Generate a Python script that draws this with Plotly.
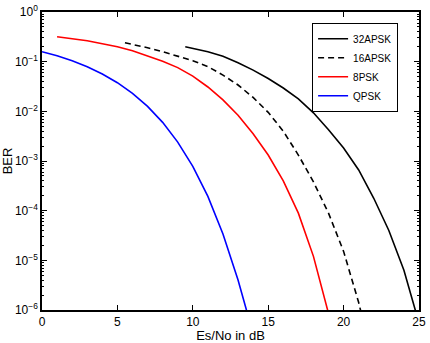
import plotly.graph_objects as go

# Es/No (dB) and BER
qpsk_x = [0, 1, 2, 3, 4, 5, 6, 7, 8, 9, 10, 11, 12, 13, 13.6]
qpsk_y = [0.159, 0.131, 0.104, 0.079, 0.0565, 0.0377, 0.023, 0.0126, 0.006,
          0.0024, 7.8e-4, 1.94e-4, 3.4e-5, 4.0e-6, 9.0e-7]

psk8_x = [1, 2, 3, 4, 5, 6, 7, 8, 9, 10, 11, 12, 13, 14, 15, 16, 17, 18, 19]
psk8_log = [-0.50, -0.54, -0.58, -0.64, -0.70, -0.78, -0.88, -0.99, -1.12, -1.29,
            -1.51, -1.77, -2.08, -2.45, -2.88, -3.40, -4.05, -4.92, -6.07]

apsk16_x = [5.5, 6, 7, 8, 9, 10, 11, 12, 13, 14, 15, 16, 17, 18, 19, 20, 21, 21.2]
apsk16_log = [-0.62, -0.65, -0.72, -0.80, -0.89, -0.98, -1.10, -1.27, -1.47, -1.72,
              -2.02, -2.40, -2.88, -3.42, -4.05, -4.82, -5.85, -6.1]

apsk32_x = [9.5, 10, 11, 12, 13, 14, 15, 16, 17, 18, 19, 20, 21, 22, 23, 24, 24.8]
apsk32_log = [-0.70, -0.73, -0.80, -0.89, -1.02, -1.17, -1.34, -1.53, -1.75, -2.03,
              -2.37, -2.74, -3.18, -3.75, -4.40, -5.20, -6.05]

x_ticks = [0, 5, 10, 15, 20, 25]
y_exps = [0, -1, -2, -3, -4, -5, -6]

psk8_y = [10 ** v for v in psk8_log]
apsk16_y = [10 ** v for v in apsk16_log]
apsk32_y = [10 ** v for v in apsk32_log]

fig = go.Figure()
fig.add_trace(go.Scatter(x=apsk32_x, y=apsk32_y, mode="lines", name="32APSK",
                         line=dict(color="black", width=1.6)))
fig.add_trace(go.Scatter(x=apsk16_x, y=apsk16_y, mode="lines", name="16APSK",
                         line=dict(color="black", width=1.6, dash="6px,4px")))
fig.add_trace(go.Scatter(x=psk8_x, y=psk8_y, mode="lines", name="8PSK",
                         line=dict(color="#ff0000", width=1.6)))
fig.add_trace(go.Scatter(x=qpsk_x, y=qpsk_y, mode="lines", name="QPSK",
                         line=dict(color="#0000ff", width=1.6)))

minor_vals = [m * 10 ** e for e in range(-6, 0) for m in range(2, 10)]

fig.update_layout(
    width=430, height=343,
    margin=dict(l=42, r=11, t=12, b=33),
    paper_bgcolor="white", plot_bgcolor="white",
    font=dict(family="Liberation Sans, Arial, sans-serif", size=12, color="black"),
    showlegend=True,
    legend=dict(x=0.944, y=0.963, xanchor="right", yanchor="top",
                bgcolor="white", bordercolor="black", borderwidth=1.2,
                font=dict(size=10), tracegroupgap=0, itemwidth=30),
    xaxis=dict(range=[0, 25], tickvals=x_ticks, ticktext=[str(v) for v in x_ticks],
               ticks="inside", ticklen=5, tickcolor="black", showgrid=False,
               zeroline=False, showline=True, linecolor="black", linewidth=1.5,
               mirror="ticks", automargin=False, tickfont=dict(size=12),
               title=dict(text="Es/No in dB", standoff=3, font=dict(size=13))),
    yaxis=dict(type="log", range=[-6, 0],
               tickvals=[10 ** e for e in y_exps],
               ticktext=["10<sup>%s</sup>" % (str(e).replace("-", "\u2212")) for e in y_exps],
               ticks="inside", ticklen=5, tickcolor="black", showgrid=False,
               zeroline=False, showline=True, linecolor="black", linewidth=1.5,
               mirror="ticks", automargin=False, tickfont=dict(size=12),
               minor=dict(tickvals=minor_vals, ticks="inside", ticklen=2.5,
                          tickcolor="black", showgrid=False),
               title=dict(text="BER", standoff=2, font=dict(size=13))),
)

fig.write_html("out.html")
